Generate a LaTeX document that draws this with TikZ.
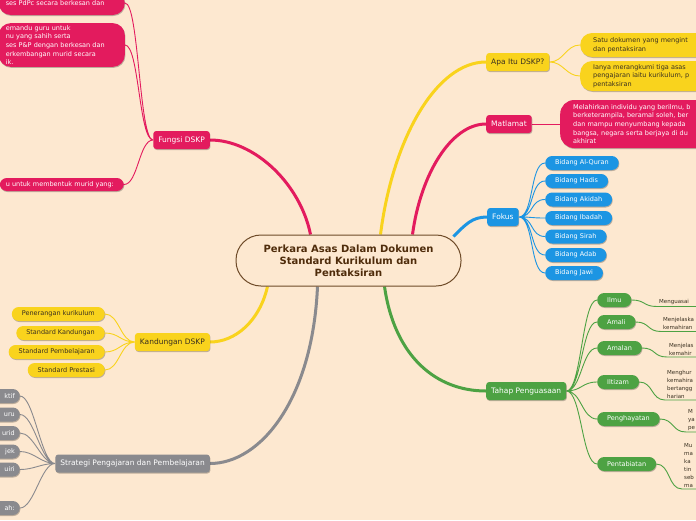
\documentclass[tikz,border=0pt]{standalone}
\usepackage{fontspec}
\setmainfont{DejaVu Sans}
\usepackage{tikz}
\usetikzlibrary{positioning,calc,shadows,backgrounds}
\definecolor{paper}{HTML}{FDE8D0}
\definecolor{cerise}{HTML}{E31B5E}
\definecolor{mustard}{HTML}{F9D31D}
\definecolor{azure}{HTML}{1C95E3}
\definecolor{leaf}{HTML}{4DA243}
\definecolor{slate}{HTML}{8A8A8E}
\definecolor{umber}{HTML}{6E4A28}
\definecolor{cocoa}{HTML}{4F2C0B}
\definecolor{ink}{HTML}{3A3020}
\tikzset{
  softshadow/.style={
    drop shadow={shadow xshift=0.6pt, shadow yshift=-1pt,
      opacity=0.25, fill=black}
  },
  rootbox/.style={
    rectangle, rounded corners=25pt, draw=umber, line width=1pt,
    fill=paper, minimum width=225pt, minimum height=51pt,
    text=cocoa, font=\fontsize{10}{12}\selectfont\bfseries,
    align=center
  },
  topicbox/.style={
    rectangle, rounded corners=3pt, fill=#1, text=white,
    font=\fontsize{7.5}{9}\selectfont,
    minimum height=18pt, inner xsep=5pt, inner ysep=2pt,
    softshadow
  },
  topicbox/.default=cerise,
  leafbox/.style={
    rectangle, rounded corners=7pt, fill=#1, text=white,
    font=\fontsize{6.5}{8}\selectfont,
    minimum height=14pt, inner xsep=10pt, inner ysep=1pt,
    softshadow
  },
  leafbox/.default=azure,
  notebox/.style={
    rectangle, rounded corners=12pt, fill=#1, text=white,
    font=\fontsize{6.5}{8.7}\selectfont, align=left,
    inner xsep=13pt, inner ysep=3pt, softshadow
  },
  notebox/.default=cerise,
  tiptext/.style={
    font=\fontsize{5.5}{8}\selectfont, text=ink, align=left,
    text width=#1, inner xsep=2pt, inner ysep=1.5pt,
    anchor=south west
  },
  tiptext/.default=60pt,
  bough/.style={draw=#1, line width=3pt},
  twig/.style={draw=#1, line width=0.9pt},
}

\begin{document}
\begin{tikzpicture}[x=1pt, y=-1pt]
  \useasboundingbox (0,0) rectangle (696,520);

  % centre
  \node[rootbox] (ctr) at (348.5,260.5)
    {Perkara Asas Dalam Dokumen\\Standard Kurikulum dan\\Pentaksiran};

  % main topics
  \node[topicbox=cerise, anchor=east] (fungsi) at (210,140) {Fungsi DSKP};
  \node[topicbox=mustard, text=ink, anchor=west] (apa) at (486,62) {Apa Itu DSKP?};
  \node[topicbox=cerise, anchor=west] (matlamat) at (486,124) {Matlamat};
  \node[topicbox=azure, anchor=west] (fokus) at (487,217) {Fokus};
  \node[topicbox=leaf, anchor=west] (tahap) at (486,391) {Tahap Penguasaan};
  \node[topicbox=mustard, text=ink, anchor=east] (kandungan) at (210,342) {Kandungan DSKP};
  \node[topicbox=slate, anchor=east] (strategi) at (210,463.5)
    {Strategi Pengajaran dan Pembelajaran};

  % Fungsi DSKP
  \node[notebox=cerise, anchor=east, text width=112pt, inner xsep=7pt,
    minimum height=24pt] (fungsiA) at (125,3) {ses PdPc secara berkesan dan};
  \node[notebox=cerise, anchor=east, text width=112pt, inner xsep=7pt,
    inner ysep=2pt] (fungsiB) at (125,45)
    {emandu guru untuk\\nu yang sahih serta\\ses P\&P dengan berkesan dan\\erkembangan murid secara\\ik.};
  \node[notebox=cerise, anchor=east, text width=112pt, inner xsep=6pt,
    rounded corners=7pt, minimum height=13pt, inner ysep=1pt] (fungsiC) at (124,184.5)
    {u untuk membentuk murid yang:};

  % Apa Itu DSKP?
  \node[notebox=mustard, text=ink, anchor=west, text width=150pt,
    minimum height=24pt] (apaA) at (580,45)
    {Satu dokumen yang mengint\\dan pentaksiran};
  \node[notebox=mustard, text=ink, anchor=west, text width=150pt,
    minimum height=30pt] (apaB) at (580,76)
    {Ianya merangkumi tiga asas\\pengajaran iaitu kurikulum, p\\pentaksiran};

  % Matlamat
  \node[notebox=cerise, anchor=west, text width=150pt, rounded corners=14pt,
    minimum height=48pt] (matlamatA) at (560,124)
    {Melahirkan individu yang berilmu, b\\berketerampila, beramal soleh, ber\\dan mampu menyumbang kepada\\bangsa, negara serta berjaya di du\\akhirat};

  % Fokus
  \node[leafbox=azure, anchor=west] (quran) at (545,163) {Bidang Al-Quran};
  \node[leafbox=azure, anchor=west] (hadis) at (545,181) {Bidang Hadis};
  \node[leafbox=azure, anchor=west] (akidah) at (545,199.5) {Bidang Akidah};
  \node[leafbox=azure, anchor=west] (ibadah) at (545,218) {Bidang Ibadah};
  \node[leafbox=azure, anchor=west] (sirah) at (545,236.5) {Bidang Sirah};
  \node[leafbox=azure, anchor=west] (adab) at (545,255) {Bidang Adab};
  \node[leafbox=azure, anchor=west] (jawi) at (545,273) {Bidang Jawi};

  % Tahap Penguasaan
  \node[leafbox=leaf, anchor=west] (ilmu) at (597,300) {Ilmu};
  \node[leafbox=leaf, anchor=west] (amali) at (597,322) {Amali};
  \node[leafbox=leaf, anchor=west] (amalan) at (597,348) {Amalan};
  \node[leafbox=leaf, anchor=west] (iltizam) at (597,382) {Iltizam};
  \node[leafbox=leaf, anchor=west] (hayat) at (597,419) {Penghayatan};
  \node[leafbox=leaf, anchor=west] (tabiat) at (597,464) {Pentabiatan};

  \node[tiptext] (tpIlmu) at (657,306.5) {Menguasai};
  \node[tiptext] (tpAmali) at (661,331.5) {Menjelaska\\kemahiran};
  \node[tiptext] (tpAmalan) at (667,357) {Menjelas\\kemahir};
  \node[tiptext] (tpIltizam) at (665,400) {Menghur\\kemahira\\bertangg\\harian};
  \node[tiptext] (tpHayat) at (686,432) {M\\ya\\pe};
  \node[tiptext] (tpTabiat) at (682,489) {Mu\\ma\\ka\\tin\\seb\\ma};

  % Kandungan DSKP
  \node[leafbox=mustard, text=ink, anchor=east] (terang) at (105,314) {Penerangan kurikulum};
  \node[leafbox=mustard, text=ink, anchor=east] (skandung) at (105,333) {Standard Kandungan};
  \node[leafbox=mustard, text=ink, anchor=east] (sbelajar) at (105,352) {Standard Pembelajaran};
  \node[leafbox=mustard, text=ink, anchor=east] (sprestasi) at (105,370) {Standard Prestasi};

  % Strategi
  \node[leafbox=slate, anchor=east, text width=30pt, align=right, inner xsep=5pt] (stA) at (20,396) {ktif};
  \node[leafbox=slate, anchor=east, text width=30pt, align=right, inner xsep=5pt] (stB) at (20,414.5) {uru};
  \node[leafbox=slate, anchor=east, text width=30pt, align=right, inner xsep=5pt] (stC) at (20,433) {urid};
  \node[leafbox=slate, anchor=east, text width=30pt, align=right, inner xsep=5pt] (stD) at (20,451.5) {jek};
  \node[leafbox=slate, anchor=east, text width=30pt, align=right, inner xsep=5pt] (stE) at (20,469.5) {uiri};
  \node[leafbox=slate, anchor=east, text width=30pt, align=right, inner xsep=5pt] (stF) at (20,508) {ah:};

  \begin{scope}[on background layer]
    \fill[paper] (0,0) rectangle (696,520);
    % boughs from the centre
    \draw[bough=cerise] ([xshift=-38pt]ctr.north) .. controls +(-10,-50) and +(45,0) .. (fungsi.east);
    \draw[bough=mustard] ([xshift=32pt]ctr.north) .. controls +(12,-95) and +(-50,0) .. (apa.west);
    \draw[bough=cerise] ([xshift=64pt]ctr.north) .. controls +(8,-60) and +(-35,0) .. (matlamat.west);
    \draw[bough=azure] ([xshift=-8pt,yshift=-2pt]ctr.north east) .. controls +(12,-12) and +(-15,0) .. (fokus.west);
    \draw[bough=leaf] ([xshift=36pt]ctr.south) .. controls +(10,70) and +(-50,0) .. (tahap.west);
    \draw[bough=mustard] ([xshift=-81pt]ctr.south) .. controls +(-8,35) and +(25,0) .. (kandungan.east);
    \draw[bough=slate] ([xshift=-31pt]ctr.south) .. controls +(-5,114) and +(50,0) .. (strategi.east);

    % twigs
    \draw[twig=cerise] (fungsi.west) .. controls +(-14,0) and +(14,0) .. (fungsiA.east)
      (fungsi.west) .. controls +(-14,0) and +(14,0) .. (fungsiB.east)
      (fungsi.west) .. controls +(-14,0) and +(14,0) .. (fungsiC.east);
    \draw[twig=mustard] (apa.east) .. controls +(14,0) and +(-14,0) .. (apaA.west)
      (apa.east) .. controls +(14,0) and +(-14,0) .. (apaB.west);
    \draw[twig=cerise] (matlamat.east) -- (matlamatA.west);
    \draw[twig=azure] (fokus.east) .. controls +(15,0) and +(-15,0) .. (quran.west)
      (fokus.east) .. controls +(15,0) and +(-15,0) .. (hadis.west)
      (fokus.east) .. controls +(15,0) and +(-15,0) .. (akidah.west)
      (fokus.east) .. controls +(15,0) and +(-15,0) .. (ibadah.west)
      (fokus.east) .. controls +(15,0) and +(-15,0) .. (sirah.west)
      (fokus.east) .. controls +(15,0) and +(-15,0) .. (adab.west)
      (fokus.east) .. controls +(15,0) and +(-15,0) .. (jawi.west);
    \draw[twig=leaf] (tahap.east) .. controls +(15,0) and +(-15,0) .. (ilmu.west)
      (tahap.east) .. controls +(15,0) and +(-15,0) .. (amali.west)
      (tahap.east) .. controls +(15,0) and +(-15,0) .. (amalan.west)
      (tahap.east) .. controls +(15,0) and +(-15,0) .. (iltizam.west)
      (tahap.east) .. controls +(15,0) and +(-15,0) .. (hayat.west)
      (tahap.east) .. controls +(15,0) and +(-15,0) .. (tabiat.west);
    \draw[twig=leaf] (ilmu.east) .. controls +(14,0) and +(-14,0) .. (tpIlmu.south west) -- (tpIlmu.south east)
      (amali.east) .. controls +(14,0) and +(-14,0) .. (tpAmali.south west) -- (tpAmali.south east)
      (amalan.east) .. controls +(14,0) and +(-14,0) .. (tpAmalan.south west) -- (tpAmalan.south east)
      (iltizam.east) .. controls +(14,0) and +(-14,0) .. (tpIltizam.south west) -- (tpIltizam.south east)
      (hayat.east) .. controls +(14,0) and +(-14,0) .. (tpHayat.south west) -- (tpHayat.south east)
      (tabiat.east) .. controls +(14,0) and +(-14,0) .. (tpTabiat.south west) -- (tpTabiat.south east);
    \draw[twig=mustard] (kandungan.west) .. controls +(-14,0) and +(14,0) .. (terang.east)
      (kandungan.west) .. controls +(-14,0) and +(14,0) .. (skandung.east)
      (kandungan.west) .. controls +(-14,0) and +(14,0) .. (sbelajar.east)
      (kandungan.west) .. controls +(-14,0) and +(14,0) .. (sprestasi.east);
    \draw[twig=slate] (strategi.west) .. controls +(-14,0) and +(14,0) .. (stA.east)
      (strategi.west) .. controls +(-14,0) and +(14,0) .. (stB.east)
      (strategi.west) .. controls +(-14,0) and +(14,0) .. (stC.east)
      (strategi.west) .. controls +(-14,0) and +(14,0) .. (stD.east)
      (strategi.west) .. controls +(-14,0) and +(14,0) .. (stE.east)
      (strategi.west) .. controls +(-14,0) and +(14,0) .. (stF.east);
  \end{scope}
\end{tikzpicture}
\end{document}
